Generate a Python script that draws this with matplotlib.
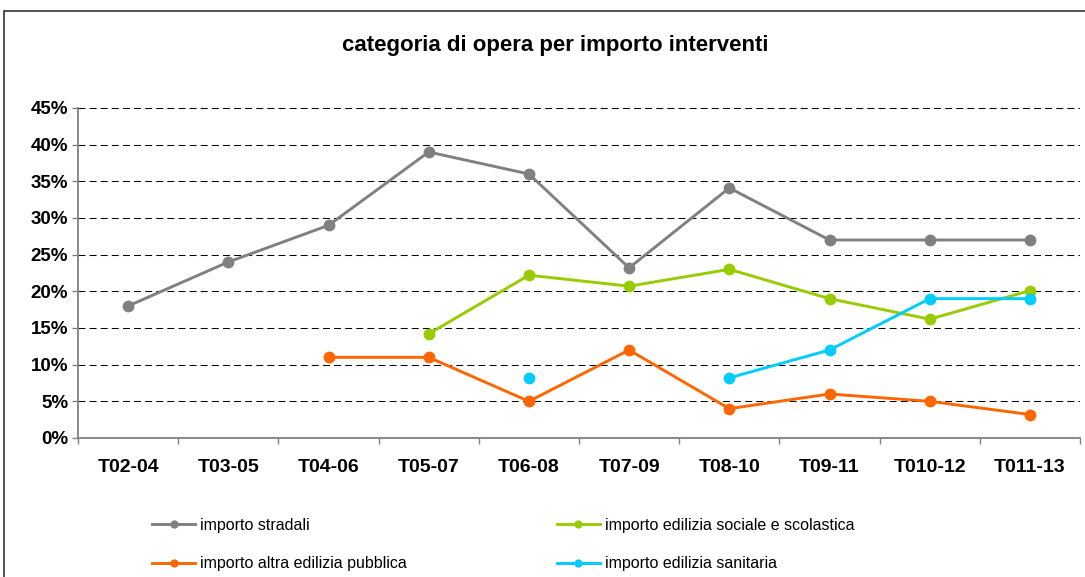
import numpy as np
import matplotlib
matplotlib.use('Agg')
import matplotlib.pyplot as plt
from matplotlib.patches import Rectangle
from matplotlib.ticker import FixedLocator, PercentFormatter

plt.rcParams['font.family'] = ['Liberation Sans', 'DejaVu Sans']
plt.rcParams['lines.scale_dashes'] = False

# periods (x categories)
periods = ['T02-04', 'T03-05', 'T04-06', 'T05-07', 'T06-08',
           'T07-09', 'T08-10', 'T09-11', 'T010-12', 'T011-13']

nan = np.nan
stradali = [18, 24, 29, 39, 36, 23.2, 34.1, 27, 27, 27]
sociale_scolastica = [nan, nan, nan, 14.2, 22.2, 20.7, 23, 19, 16.2, 20.1]
altra_pubblica = [nan, nan, 11, 11, 5, 12, 4, 6, 5, 3.2]
sanitaria = [nan, nan, nan, nan, 8.2, nan, 8.2, 12, 19, 19]

series = [
    ('importo stradali', stradali, '#808080'),
    ('importo altra edilizia pubblica', altra_pubblica, '#FF6600'),
    ('importo edilizia sociale e scolastica', sociale_scolastica, '#99CC00'),
    ('importo edilizia sanitaria', sanitaria, '#00CCFF'),
]

W, H = 1085, 577
fig = plt.figure(figsize=(W / 100, H / 100), dpi=100)

# outer chart frame (open to the right and bottom, as in the source)
fig.patches.append(Rectangle((4 / W, -0.05), 1.1, 1 - 11 / H + 0.05,
                             transform=fig.transFigure, fill=False,
                             edgecolor='#222222', linewidth=1.1))

ax = fig.add_axes([78 / W, 1 - 438 / H, (1080 - 78) / W, (438 - 108) / H])
x = np.arange(len(periods))

handles = {}
for name, vals, col in series:
    h, = ax.plot(x, vals, color=col, lw=2.1, marker='o', markersize=8.5,
                 markeredgewidth=0, label=name, zorder=3)
    handles[name] = h

ax.set_xlim(-0.5, len(periods) - 0.5)
ax.set_ylim(0, 45)
ax.yaxis.set_major_locator(FixedLocator(np.arange(0, 46, 5)))
ax.yaxis.set_major_formatter(PercentFormatter(decimals=0))
ax.grid(axis='y', color='black', lw=0.75, linestyle=(0, (5, 3)))
ax.set_axisbelow(True)

ax.xaxis.set_major_locator(FixedLocator(np.arange(-0.5, len(periods), 1)))
ax.xaxis.set_minor_locator(FixedLocator(x))
ax.set_xticklabels([], minor=False)
ax.set_xticklabels(periods, minor=True, fontsize=14, fontweight='bold')
ax.tick_params(axis='x', which='major', length=4, width=1, color='#808080', direction='out')
ax.tick_params(axis='x', which='minor', length=0, pad=15)
ax.tick_params(axis='y', length=4, width=1, color='#808080', pad=3, labelsize=13.5)
for lbl in ax.get_yticklabels():
    lbl.set_fontweight('bold')

for s in ('top', 'right'):
    ax.spines[s].set_visible(False)
for s in ('left', 'bottom'):
    ax.spines[s].set_color('#808080')
    ax.spines[s].set_linewidth(1.3)

fig.text(555 / W, 1 - 45 / H, 'categoria di opera per importo interventi',
         ha='center', va='center', fontsize=16, fontweight='bold')

leg = fig.legend([handles[s[0]] for s in series], [s[0] for s in series],
                 ncol=2, loc='upper left', bbox_to_anchor=(152 / W, 1 - 518 / H),
                 frameon=False, fontsize=11.5, handlelength=2.7, handletextpad=0.3,
                 columnspacing=9.4, labelspacing=1.45, borderpad=0, borderaxespad=0,
                 markerscale=0.7)

fig.savefig('out.png', dpi=100)
